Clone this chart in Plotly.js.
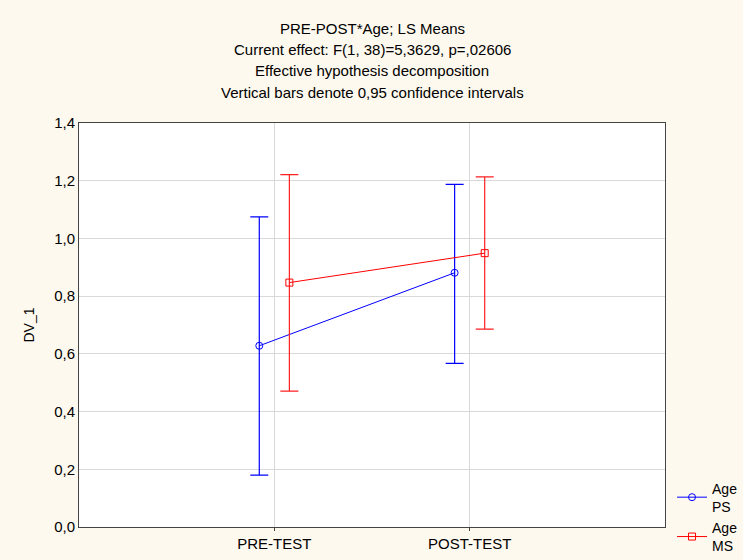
<!DOCTYPE html>
<html>
<head>
<meta charset="utf-8">
<script src="https://cdn.plot.ly/plotly-3.0.1.min.js"></script>
<style>html,body{margin:0;padding:0;background:#fef9ee;}</style>
</head>
<body>
<div id="chart" style="width:743px;height:560px;"></div>
<script>
const categories = ["PRE-TEST", "POST-TEST"];
const catIndex = [0, 1];
const titleLines = [
  "PRE-POST*Age; LS Means",
  "Current effect: F(1, 38)=5,3629, p=,02606",
  "Effective hypothesis decomposition",
  "Vertical bars denote 0,95 confidence intervals"
];
const psName = "Age<br>PS";
const psMean = [0.628, 0.881];
const psUpper = [1.075, 1.187];
const psLower = [0.180, 0.567];
const msName = "Age<br>MS";
const msMean = [0.847, 0.949];
const msUpper = [1.221, 1.213];
const msLower = [0.471, 0.686];
const yTicks = [0, 0.2, 0.4, 0.6, 0.8, 1.0, 1.2, 1.4];

const dodge = 0.077;
function shift(arr, d) { return arr.map(v => v + d); }
function plus(u, m) { return u.map((v, i) => v - m[i]); }
function minus(l, m) { return m.map((v, i) => v - l[i]); }

const font = "Liberation Sans, Arial, sans-serif";

const traces = [
  {
    x: shift(catIndex, -dodge), y: psMean, name: psName,
    type: "scatter", mode: "lines+markers",
    line: {color: "#0000ff", width: 1},
    marker: {symbol: "circle-open", size: 7, color: "#0000ff", line: {width: 1}},
    error_y: {type: "data", symmetric: false, array: plus(psUpper, psMean), arrayminus: minus(psLower, psMean),
      color: "#0000ff", thickness: 1.2, width: 9}
  },
  {
    x: shift(catIndex, dodge), y: msMean, name: msName,
    type: "scatter", mode: "lines+markers",
    line: {color: "#ff0000", width: 1},
    marker: {symbol: "square-open", size: 7, color: "#ff0000", line: {width: 1}},
    error_y: {type: "data", symmetric: false, array: plus(msUpper, msMean), arrayminus: minus(msLower, msMean),
      color: "#ff2020", thickness: 1.2, width: 9}
  }
];

const annotations = titleLines.map((t, i) => ({
  text: t, xref: "paper", yref: "paper", x: 0.5, xanchor: "center",
  y: 1 + (95 - 21.5 * i) / 404, yanchor: "middle", showarrow: false,
  font: {family: font, size: 15, color: "#000"}
}));

const layout = {
  width: 743, height: 560,
  margin: {l: 79, r: 78, t: 123, b: 33, autoexpand: false},
  paper_bgcolor: "#fef9ee",
  plot_bgcolor: "#ffffff",
  separators: ", ",
  font: {family: font, size: 15, color: "#000"},
  showlegend: true,
  legend: {x: 1.012, xanchor: "left", y: 0.135, yanchor: "top",
    bgcolor: "rgba(0,0,0,0)", font: {family: font, size: 14, color: "#000"}, tracegroupgap: 0},
  xaxis: {
    range: [-1, 2], tickvals: catIndex, ticktext: categories,
    showgrid: true, gridcolor: "#d9d9d9", gridwidth: 1, zeroline: false,
    showline: true, linecolor: "#444", linewidth: 1, mirror: true,
    ticks: "outside", ticklen: 3, tickcolor: "#444",
    tickfont: {family: font, size: 15, color: "#000"}
  },
  yaxis: {
    range: [0, 1.4], tickvals: yTicks, tickformat: ".1f",
    showgrid: true, gridcolor: "#d9d9d9", gridwidth: 1, zeroline: false,
    showline: true, linecolor: "#444", linewidth: 1, mirror: true,
    ticks: "", tickfont: {family: font, size: 15, color: "#000"},
    title: {text: "DV_1", font: {family: font, size: 14, color: "#000"}, standoff: 16}
  },
  annotations: annotations
};

Plotly.newPlot("chart", traces, layout, {displayModeBar: false, staticPlot: true});
</script>
</body>
</html>
